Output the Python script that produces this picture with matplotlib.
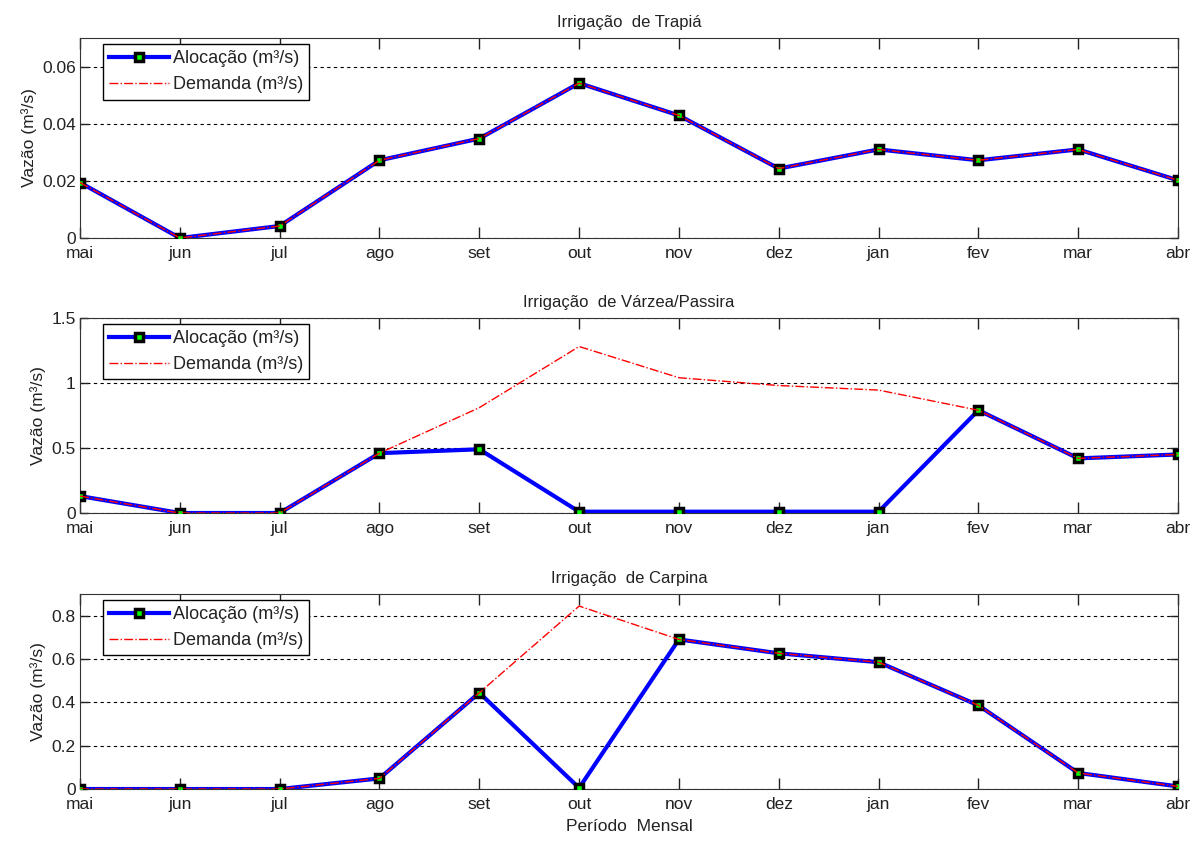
import matplotlib.pyplot as plt
import numpy as np

plt.rcParams['font.family'] = ['Liberation Sans', 'DejaVu Sans']
plt.rcParams['font.size'] = 12.5

# Months (May to April)
meses = ['mai', 'jun', 'jul', 'ago', 'set', 'out', 'nov', 'dez', 'jan', 'fev', 'mar', 'abr']

# Irrigação de Trapiá
trapia_aloc = [0.0194, 0.0, 0.0042, 0.0272, 0.0348, 0.0542, 0.0429, 0.0243, 0.031, 0.0272, 0.031, 0.0202]
trapia_dem  = [0.0194, 0.0, 0.0042, 0.0272, 0.0348, 0.0542, 0.0429, 0.0243, 0.031, 0.0272, 0.031, 0.0202]

# Irrigação de Várzea/Passira
varzea_aloc = [0.13, 0.0, 0.0, 0.46, 0.49, 0.01, 0.01, 0.01, 0.01, 0.79, 0.42, 0.45]
varzea_dem  = [0.13, 0.0, 0.0, 0.46, 0.81, 1.28, 1.04, 0.98, 0.945, 0.79, 0.42, 0.45]

# Irrigação de Carpina
carpina_aloc = [0.0, 0.0, 0.0, 0.049, 0.444, 0.005, 0.69, 0.626, 0.585, 0.386, 0.074, 0.012]
carpina_dem  = [0.0, 0.0, 0.0, 0.049, 0.444, 0.844, 0.69, 0.626, 0.585, 0.386, 0.074, 0.012]

titulos = ['Irrigação  de Trapiá', 'Irrigação  de Várzea/Passira', 'Irrigação  de Carpina']
aloc = [trapia_aloc, varzea_aloc, carpina_aloc]
dem = [trapia_dem, varzea_dem, carpina_dem]
ylims = [0.07, 1.5, 0.9]
yticks = [[0, 0.02, 0.04, 0.06], [0, 0.5, 1, 1.5], [0, 0.2, 0.4, 0.6, 0.8]]
yticklabels = [['0', '0.02', '0.04', '0.06'], ['0', '0.5', '1', '1.5'], ['0', '0.2', '0.4', '0.6', '0.8']]

fig = plt.figure(figsize=(12, 8.41), dpi=100)
positions = [[0.0667, 0.717, 0.915, 0.2378],
             [0.0667, 0.390, 0.915, 0.232],
             [0.0667, 0.0618, 0.915, 0.232]]

x = np.arange(len(meses))
for i in range(3):
    ax = fig.add_axes(positions[i])
    ax.plot(x, aloc[i], '-s', color='blue', linewidth=3, markersize=6,
            markeredgewidth=2.5, markeredgecolor='black', markerfacecolor='#00ff00',
            label='Alocação (m³/s)', zorder=3)
    ax.plot(x, dem[i], '-.', color='red', linewidth=1, label='Demanda (m³/s)', zorder=4)
    ax.set_xlim(0, 11)
    ax.set_ylim(0, ylims[i])
    ax.set_xticks(x)
    ax.set_xticklabels(meses)
    ax.set_yticks(yticks[i])
    ax.set_yticklabels(yticklabels[i])
    ax.grid(axis='y', color='black', linestyle=(0, (3, 3)), linewidth=0.8)
    ax.tick_params(direction='in', top=True, right=True, length=8, width=1, pad=3,
                   colors='#222222')
    ax.tick_params(axis='x', pad=5.5)
    ax.tick_params(axis='y', length=6)
    for s in ax.spines.values():
        s.set_color('#333333')
    ax.set_title(titulos[i], fontsize=12, pad=8, color='#222222')
    ax.set_ylabel('Vazão (m³/s)', color='#222222')
    leg = ax.legend(loc='upper left', bbox_to_anchor=(0.021, 0.97), fancybox=False,
                    edgecolor='black', framealpha=1, borderaxespad=0, fontsize=13,
                    handlelength=3.3, borderpad=0.35, labelspacing=0.5, handletextpad=0.2)
    leg.get_frame().set_linewidth(1)
    for t in leg.get_texts():
        t.set_color('#222222')
    if i == 2:
        ax.set_xlabel('Período  Mensal', labelpad=5, color='#222222')

plt.savefig('out.png', dpi=100)
